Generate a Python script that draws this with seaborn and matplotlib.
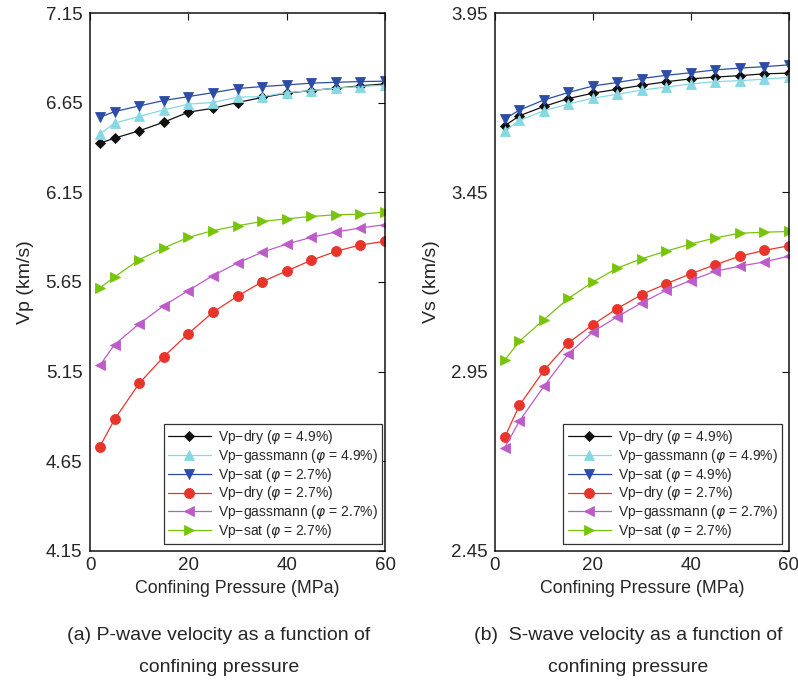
import matplotlib
matplotlib.use("Agg")
import matplotlib.pyplot as plt
import seaborn as sns
import pandas as pd

# ---------------- data ----------------
pressure = [2, 5, 10, 15, 20, 25, 30, 35, 40, 45, 50, 55, 60]

# P-wave velocities (km/s)
vp_dry_49 = [6.425, 6.453, 6.494, 6.542, 6.598, 6.620, 6.652, 6.680, 6.704, 6.719, 6.732, 6.745, 6.756]
vp_gas_49 = [6.476, 6.537, 6.574, 6.611, 6.643, 6.652, 6.682, 6.685, 6.707, 6.719, 6.732, 6.741, 6.749]
vp_sat_49 = [6.570, 6.601, 6.633, 6.663, 6.685, 6.707, 6.730, 6.741, 6.750, 6.760, 6.765, 6.769, 6.771]
vp_dry_27 = [4.731, 4.883, 5.084, 5.233, 5.362, 5.481, 5.571, 5.651, 5.712, 5.771, 5.821, 5.857, 5.877]
vp_gas_27 = [5.184, 5.301, 5.416, 5.518, 5.602, 5.686, 5.756, 5.816, 5.862, 5.899, 5.929, 5.952, 5.970]
vp_sat_27 = [5.617, 5.678, 5.775, 5.840, 5.899, 5.937, 5.964, 5.988, 6.003, 6.016, 6.025, 6.029, 6.040]

# S-wave velocities (km/s)
vs_dry_49 = [3.636, 3.664, 3.690, 3.712, 3.727, 3.738, 3.749, 3.759, 3.767, 3.772, 3.776, 3.781, 3.783]
vs_gas_49 = [3.622, 3.651, 3.678, 3.697, 3.713, 3.724, 3.736, 3.744, 3.753, 3.759, 3.762, 3.766, 3.771]
vs_sat_49 = [3.655, 3.680, 3.708, 3.729, 3.747, 3.757, 3.768, 3.777, 3.784, 3.792, 3.797, 3.801, 3.806]
vs_dry_27 = [2.767, 2.856, 2.953, 3.030, 3.081, 3.126, 3.165, 3.195, 3.223, 3.248, 3.272, 3.288, 3.301]
vs_gas_27 = [2.738, 2.812, 2.909, 2.999, 3.061, 3.103, 3.142, 3.177, 3.204, 3.230, 3.244, 3.256, 3.272]
vs_sat_27 = [2.982, 3.035, 3.095, 3.154, 3.200, 3.239, 3.265, 3.286, 3.306, 3.323, 3.336, 3.339, 3.341]

labels_p = ["Vp\u2212dry ($\\varphi$ = 4.9%)", "Vp\u2212gassmann ($\\varphi$ = 4.9%)",
            "Vp\u2212sat ($\\varphi$ = 2.7%)", "Vp\u2212dry ($\\varphi$ = 2.7%)",
            "Vp\u2212gassmann ($\\varphi$ = 2.7%)", "Vp\u2212sat ($\\varphi$ = 2.7%)"]
labels_s = ["Vp\u2212dry ($\\varphi$ = 4.9%)", "Vp\u2212gassmann ($\\varphi$ = 4.9%)",
            "Vp\u2212sat ($\\varphi$ = 4.9%)", "Vp\u2212dry ($\\varphi$ = 2.7%)",
            "Vp\u2212gassmann ($\\varphi$ = 2.7%)", "Vp\u2212sat ($\\varphi$ = 2.7%)"]

xticks = [0, 20, 40, 60]
yticks_p = [4.15, 4.65, 5.15, 5.65, 6.15, 6.65, 7.15]
yticks_s = [2.45, 2.95, 3.45, 3.95]

xlabel = "Confining Pressure (MPa)"
ylabel_p = "Vp (km/s)"
ylabel_s = "Vs (km/s)"
caption_a = ["(a) P-wave velocity as a function of", "confining pressure"]
caption_b = ["(b)  S-wave velocity as a function of", "confining pressure"]

# ---------------- styles ----------------
colors = ["#111111", "#86d8e2", "#2c4ca6", "#e8352b", "#bd5cc9", "#78c40a"]
markers = ["D", "^", "v", "o", "<", ">"]
msizes = [5.2, 7.8, 7.8, 7.2, 7.8, 7.8]

sns.set_theme(style="white")
plt.rcParams["font.family"] = ["Liberation Sans", "DejaVu Sans"]
plt.rcParams["mathtext.fontset"] = "dejavusans"
plt.rcParams["axes.edgecolor"] = "#111111"

fig = plt.figure(figsize=(7.98, 6.86), dpi=100)
axp = fig.add_axes([90 / 798, 1 - 550.7 / 686, 295 / 798, 537.4 / 686])
axs = fig.add_axes([495 / 798, 1 - 550.7 / 686, 293.5 / 798, 537.4 / 686])


def draw(ax, series, labels, yticks, ylabel, legend_right):
    for vals, lab, c, m, ms in zip(series, labels, colors, markers, msizes):
        df = pd.DataFrame({"p": pressure, "v": vals})
        sns.lineplot(data=df, x="p", y="v", ax=ax, color=c, marker=m,
                     markersize=ms, markeredgecolor=c, markeredgewidth=0.6,
                     linewidth=0.9, label=lab)
    ax.set_xlim(xticks[0], xticks[-1])
    ax.set_ylim(yticks[0], yticks[-1])
    ax.set_xticks(xticks)
    ax.set_yticks(yticks)
    ax.set_yticklabels([f"{t:.2f}" for t in yticks])
    ax.set_xlabel(xlabel, fontsize=12.8, labelpad=4)
    ax.set_ylabel(ylabel, fontsize=14, labelpad=8)
    ax.tick_params(direction="in", top=True, right=True, length=5, width=0.8,
                   labelsize=13.5, color="#111111")
    ax.tick_params(axis="x", pad=4.5)
    ax.tick_params(axis="y", pad=5.5)
    for sp in ax.spines.values():
        sp.set_linewidth(1.1)
        sp.set_color("#111111")
    leg = ax.legend(loc="lower right", bbox_to_anchor=(legend_right, 0.0125),
                    borderaxespad=0, fontsize=10, frameon=True, fancybox=False,
                    edgecolor="#333333", framealpha=1, handlelength=3.1,
                    handletextpad=0.5, labelspacing=0.05, borderpad=0.3,
                    numpoints=1)
    leg.get_frame().set_linewidth(0.9)


draw(axp, [vp_dry_49, vp_gas_49, vp_sat_49, vp_dry_27, vp_gas_27, vp_sat_27],
     labels_p, yticks_p, ylabel_p, 0.99)
draw(axs, [vs_dry_49, vs_gas_49, vs_sat_49, vs_dry_27, vs_gas_27, vs_sat_27],
     labels_s, yticks_s, ylabel_s, 0.977)

for cap, xc in ((caption_a, 219 / 798), (caption_b, 628 / 798)):
    fig.text(xc, 1 - 636 / 686, cap[0], ha="center", va="center", fontsize=14)
    fig.text(xc, 1 - 667 / 686, cap[1], ha="center", va="center", fontsize=14)

fig.savefig("out.png", dpi=100)
